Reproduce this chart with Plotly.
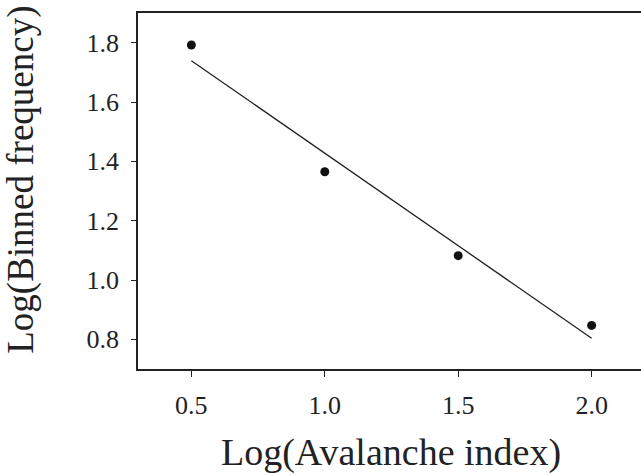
import numpy as np
import plotly.graph_objects as go

log_avalanche_index = [0.5, 1.0, 1.5, 2.0]
log_binned_frequency = [1.792, 1.365, 1.082, 0.847]

x_ticks = [0.5, 1.0, 1.5, 2.0]
x_tick_labels = ["0.5", "1.0", "1.5", "2.0"]
y_ticks = [0.8, 1.0, 1.2, 1.4, 1.6, 1.8]
y_tick_labels = ["0.8", "1.0", "1.2", "1.4", "1.6", "1.8"]

slope, intercept = np.polyfit(log_avalanche_index, log_binned_frequency, 1)
fit_x = [log_avalanche_index[0], log_avalanche_index[-1]]
fit_y = [slope * v + intercept for v in fit_x]

font = "Liberation Serif"
ink = "#222222"

fig = go.Figure()
fig.add_trace(go.Scatter(x=fit_x, y=fit_y, mode="lines",
                         line=dict(color=ink, width=1.3), showlegend=False, hoverinfo="skip"))
fig.add_trace(go.Scatter(x=log_avalanche_index, y=log_binned_frequency, mode="markers",
                         marker=dict(color="#111111", size=9), showlegend=False))

fig.update_layout(
    width=641, height=475,
    margin=dict(l=138, r=0, t=13, b=106),
    paper_bgcolor="white", plot_bgcolor="white",
    font=dict(family=font, color=ink),
    annotations=[
        dict(text="Log(Avalanche index)", xref="paper", yref="paper", x=0.502, y=-0.235,
             xanchor="center", yanchor="middle", showarrow=False,
             font=dict(size=38, family=font, color=ink)),
        dict(text="Log(Binned frequency)", xref="paper", yref="paper", x=-0.233, y=0.531,
             xanchor="center", yanchor="middle", showarrow=False, textangle=-90,
             font=dict(size=37, family=font, color=ink)),
    ],
)
fig.update_xaxes(
    range=[0.3, 2.185], tickvals=x_ticks, ticktext=x_tick_labels,
    showline=True, linecolor=ink, linewidth=1.5, mirror=True,
    ticks="outside", ticklen=6, tickcolor=ink, tickwidth=1.2,
    showgrid=False, zeroline=False, tickfont=dict(size=26, family=font, color=ink),
    ticklabelstandoff=6, automargin=False,
)
fig.update_yaxes(
    range=[0.7, 1.9], tickvals=y_ticks, ticktext=y_tick_labels,
    showline=True, linecolor=ink, linewidth=1.5,
    ticks="outside", ticklen=5, tickcolor=ink, tickwidth=1.2,
    showgrid=False, zeroline=False, tickfont=dict(size=26, family=font, color=ink),
    ticklabelstandoff=7, automargin=False,
)

fig.write_html("out.html", config={"displayModeBar": False},
               post_script="document.body.style.margin='0';document.body.style.overflow='hidden';")
